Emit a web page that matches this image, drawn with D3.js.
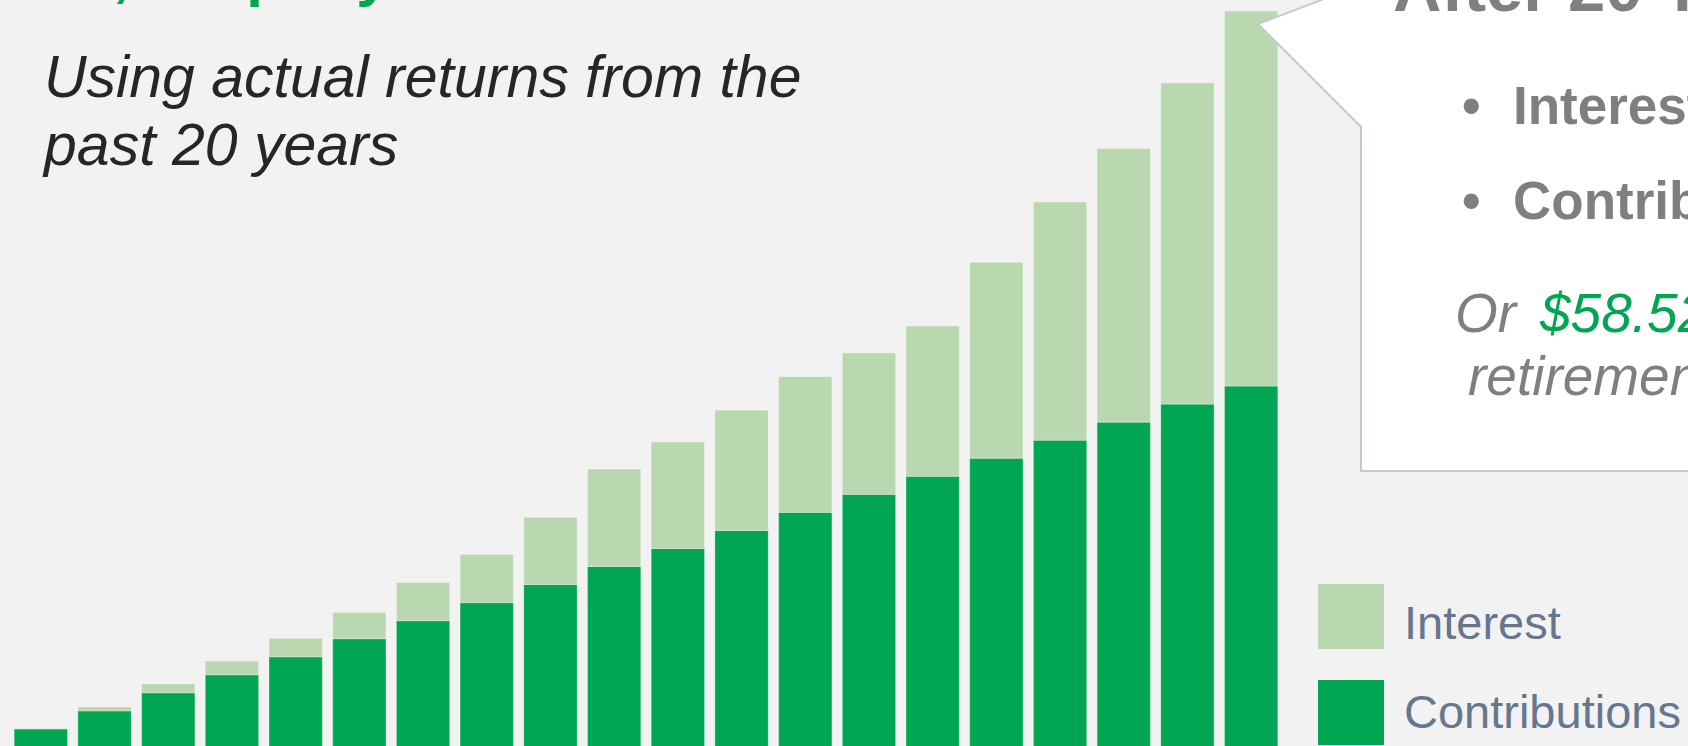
<!DOCTYPE html>
<html>
<head>
<meta charset="utf-8">
<script src="https://cdn.jsdelivr.net/npm/d3@7"></script>
<style>
  html, body { margin: 0; padding: 0; background: #f2f2f2; overflow: hidden; }
  svg { display: block; font-family: 'Liberation Sans', Arial, sans-serif; }
</style>
</head>
<body>
<svg id="chart" width="1688" height="746"></svg>
<script>
// values (dollars)
const years = ['1', '2', '3', '4', '5', '6', '7', '8', '9', '10',
  '11', '12', '13', '14', '15', '16', '17', '18', '19', '20']
const contributions = [1200, 2400, 3600, 4800, 6000, 7200, 8400, 9600, 10800, 12000,
  13200, 14400, 15600, 16800, 18000, 19200, 20400, 21600, 22800, 24000]
const interest = [20, 260, 590, 920, 1220, 1740, 2540, 3210, 4470, 6480,
  7080, 8000, 9020, 9400, 9990, 13030, 15840, 18190, 21360, 24940]
const seriesNames = ['Contributions', 'Interest']
const seriesColors = ['#00a651', '#bad8b0']

const svg = d3.select('#chart')

const rows = years.map(function (y, i) {
  return { year: y, Contributions: contributions[i], Interest: interest[i] }
})

const x = d3.scaleBand()
  .domain(years)
  .range([9, 1283])
  .paddingInner(0.163)
  .paddingOuter(0.0815)

// baseline sits just under the bottom edge of the picture
const y = d3.scaleLinear()
  .domain([0, 50000])
  .range([747, -5])

const color = d3.scaleOrdinal().domain(seriesNames).range(seriesColors)

const stacked = d3.stack().keys(seriesNames)(rows)

svg.append('g')
  .selectAll('g')
  .data(stacked)
  .enter().append('g')
  .attr('fill', function (d) { return color(d.key) })
  .selectAll('rect')
  .data(function (d) { return d })
  .enter().append('rect')
  .attr('x', function (d) { return x(d.data.year) })
  .attr('width', x.bandwidth())
  .attr('y', function (d) { return y(d[1]) })
  .attr('height', function (d) { return y(d[0]) - y(d[1]) })
  .attr('stroke', 'rgba(255,255,255,0.3)')
  .attr('stroke-width', 1)

// headline text, cut by the top edge
svg.append('text')
  .attr('x', 46)
  .attr('y', -5)
  .attr('fill', '#00a651')
  .style('font-size', '60px')
  .style('font-weight', 'bold')
  .text('$1,200 per year')

const sub = svg.append('text')
  .attr('fill', '#262626')
  .style('font-size', '59px')
  .style('font-style', 'italic')
sub.append('tspan').attr('x', 44).attr('y', 97).text('Using actual returns from the')
sub.append('tspan').attr('x', 44).attr('y', 165).text('past 20 years')

// callout box pointing at the last bar
const callout = [[1361, 471], [1361, 127], [1258, 24], [1361, -15], [1361, -80], [1760, -80], [1760, 471]]
svg.append('path')
  .attr('d', d3.line()(callout) + 'Z')
  .attr('fill', '#ffffff')
  .attr('stroke', '#c3c9d4')
  .attr('stroke-width', 2)

const gray = '#7f7f7f'
svg.append('text')
  .attr('x', 1393).attr('y', 11)
  .attr('fill', gray)
  .style('font-size', '67px').style('font-weight', 'bold')
  .text('After 20 Years')

const bullets = [
  { label: 'Interest: $24,937', y: 124 },
  { label: 'Contributions: $24,000', y: 219 }
]
bullets.forEach(function (b) {
  svg.append('text')
    .attr('x', 1462).attr('y', b.y)
    .attr('fill', gray)
    .style('font-size', '53px').style('font-weight', 'bold')
    .text('\u2022')
  svg.append('text')
    .attr('x', 1513).attr('y', b.y)
    .attr('fill', gray)
    .style('font-size', '53px').style('font-weight', 'bold')
    .text(b.label)
})

const orLine = svg.append('text')
  .attr('x', 1455).attr('y', 332)
  .style('font-size', '55px').style('font-style', 'italic')
orLine.append('tspan').attr('fill', gray).text('Or ')
orLine.append('tspan').attr('x', 1540).attr('fill', '#00a651').text('$58.52 per month in')
svg.append('text')
  .attr('x', 1468).attr('y', 395)
  .attr('fill', gray)
  .style('font-size', '55px').style('font-style', 'italic')
  .text('retirement income')

// legend
const legendItems = [
  { key: 'Interest', top: 584, base: 639 },
  { key: 'Contributions', top: 680, base: 728 }
]
const legend = svg.append('g')
legend.selectAll('rect')
  .data(legendItems)
  .enter().append('rect')
  .attr('x', 1318)
  .attr('y', function (d) { return d.top })
  .attr('width', 66)
  .attr('height', 65)
  .attr('fill', function (d) { return color(d.key) })
legend.selectAll('text')
  .data(legendItems)
  .enter().append('text')
  .attr('x', 1404)
  .attr('y', function (d) { return d.base })
  .attr('fill', '#66768e')
  .style('font-size', '47px')
  .text(function (d) { return d.key })
</script>
</body>
</html>
